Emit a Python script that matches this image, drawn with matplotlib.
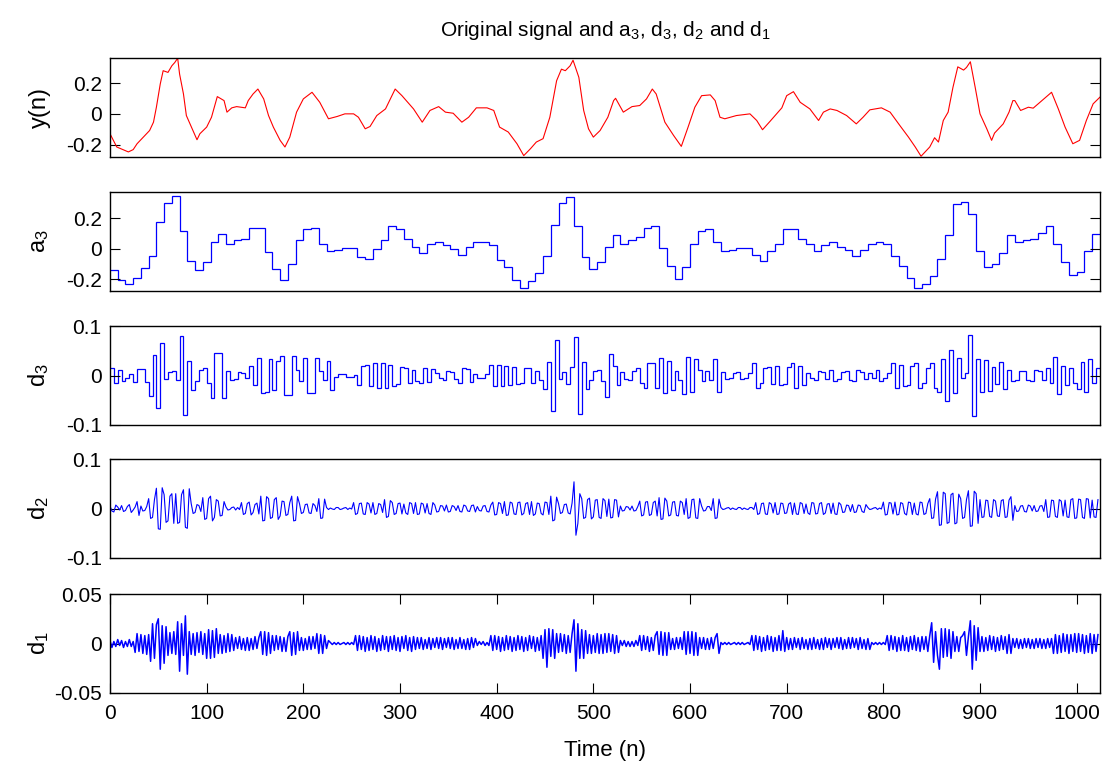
import numpy as np
import matplotlib
matplotlib.use('Agg')
import matplotlib.pyplot as plt

plt.rcParams['font.family'] = ['Liberation Sans', 'DejaVu Sans']
plt.rcParams['mathtext.fontset'] = 'custom'
plt.rcParams['mathtext.rm'] = 'Liberation Sans'
plt.rcParams['mathtext.it'] = 'Liberation Sans'

# original signal y(n)
y_n = [0, 7, 19, 24, 28, 33, 41, 45, 48, 52,
       55, 60, 64, 67, 70, 72, 76, 79, 85, 90,
       93, 100, 105, 111, 118, 121, 126, 131, 140, 143,
       148, 153, 159, 164, 169, 176, 181, 186, 193, 200,
       209, 217, 226, 235, 243, 252, 257, 264, 269, 276,
       285, 295, 302, 314, 323, 331, 340, 347, 355, 364,
       371, 379, 390, 397, 403, 412, 421, 428, 435, 441,
       448, 455, 462, 467, 471, 476, 479, 485, 490, 495,
       500, 507, 515, 521, 523, 531, 540, 548, 555, 561,
       565, 574, 583, 591, 598, 605, 612, 621, 626, 631,
       636, 648, 662, 669, 675, 683, 695, 700, 707, 714,
       724, 733, 738, 745, 752, 762, 772, 779, 786, 798,
       807, 817, 826, 833, 839, 848, 853, 857, 862, 867,
       872, 877, 883, 886, 890, 895, 900, 907, 912, 915,
       924, 930, 934, 936, 942, 950, 955, 964, 974, 981,
       988, 996, 1003, 1010, 1017, 1024]
y_val = [-0.129, -0.215, -0.247, -0.232, -0.194, -0.161, -0.108, -0.054, 0.043, 0.194,
         0.280, 0.269, 0.312, 0.333, 0.361, 0.258, 0.129, -0.011, -0.097, -0.168,
         -0.129, -0.086, -0.022, 0.112, 0.086, 0.011, 0.039, 0.047, 0.039, 0.086,
         0.129, 0.161, 0.097, -0.011, -0.086, -0.172, -0.215, -0.151, 0.011, 0.097,
         0.140, 0.075, -0.032, -0.017, 0.0, 0.0, -0.022, -0.097, -0.082, -0.011,
         0.032, 0.161, 0.118, 0.032, -0.054, 0.022, 0.047, 0.011, 0.004, -0.054,
         -0.022, 0.039, 0.039, 0.022, -0.086, -0.118, -0.194, -0.271, -0.226, -0.183,
         -0.161, -0.022, 0.215, 0.290, 0.280, 0.312, 0.348, 0.237, 0.022, -0.097,
         -0.151, -0.108, -0.022, 0.086, 0.101, 0.011, 0.047, 0.054, 0.097, 0.161,
         0.129, -0.054, -0.140, -0.211, -0.086, 0.043, 0.118, 0.123, 0.086, -0.022,
         -0.032, -0.011, 0.0, -0.043, -0.103, -0.047, 0.039, 0.118, 0.144, 0.075,
         0.032, -0.043, 0.011, 0.032, 0.022, -0.011, -0.065, -0.022, 0.026, 0.039,
         0.011, -0.075, -0.151, -0.215, -0.275, -0.215, -0.155, -0.183, -0.043, 0.011,
         0.172, 0.305, 0.284, 0.301, 0.338, 0.172, 0.0, -0.097, -0.172, -0.125,
         -0.065, 0.011, 0.086, 0.086, 0.022, 0.043, 0.037, 0.086, 0.140, 0.032,
         -0.086, -0.194, -0.172, -0.043, 0.065, 0.108]

# approximation a3, one level per 8 samples
a3 = [-0.143, -0.203, -0.235, -0.193, -0.128, -0.049, 0.175, 0.300, 0.342, 0.118,
      -0.081, -0.143, -0.090, 0.043, 0.096, 0.032, 0.054, 0.064, 0.135, 0.135,
      -0.021, -0.133, -0.205, -0.100, 0.054, 0.128, 0.135, 0.032, -0.017, -0.009,
      0.002, 0.002, -0.058, -0.071, -0.006, 0.054, 0.146, 0.128, 0.064, 0.011,
      -0.032, 0.032, 0.043, 0.021, -0.006, -0.043, 0.011, 0.043, 0.043, 0.021,
      -0.073, -0.120, -0.205, -0.257, -0.214, -0.163, -0.049, 0.154, 0.300, 0.338,
      0.146, -0.058, -0.133, -0.090, 0.011, 0.086, 0.032, 0.054, 0.075, 0.135,
      0.146, 0.004, -0.111, -0.197, -0.120, 0.032, 0.113, 0.126, 0.043, -0.019,
      -0.009, 0.002, 0.002, -0.041, -0.081, -0.019, 0.032, 0.126, 0.126, 0.064,
      0.032, -0.019, 0.021, 0.043, 0.011, -0.009, -0.051, -0.009, 0.032, 0.043,
      0.032, -0.049, -0.111, -0.193, -0.257, -0.235, -0.182, -0.071, 0.086, 0.289,
      0.304, 0.225, -0.019, -0.120, -0.103, -0.030, 0.086, 0.043, 0.054, 0.064,
      0.105, 0.146, 0.032, -0.090, -0.171, -0.154, -0.019, 0.094]

# detail d3, one level per 4 samples (x 1e-3)
d3_m = [15, -15, 12, -12, -4, 4, -14, 14, 14, -14, -42, 42, -65, 65, -8, 8, 10, -10, 80, -80,
        30, -30, -12, 12, 15, -15, -45, 45, 45, -45, 10, -10, -8, 8, 6, -6, 20, -20, 35, -35,
        -33, 33, -30, 30, 40, -40, -40, 40, 12, -12, 35, -35, -35, 35, 10, -10, 30, -30, -3, 3,
        3, -3, -2, 2, -20, 20, 22, -22, 25, -25, 25, -25, 22, -22, -18, 18, 15, -15, 12, -12,
        -16, 16, -14, 14, 5, -5, -10, 10, 8, -8, -16, 16, 14, -14, 4, -4, -4, 4, 22, -22,
        22, -22, 20, -20, 18, -18, -15, 15, 15, -15, 10, -10, -28, 28, -72, 72, -8, 8, -18, 18,
        78, -78, 28, -28, -10, 10, 12, -12, -43, 43, 20, -20, 8, -8, -10, 10, 15, -15, -25, 25,
        25, -25, 35, -35, 30, -30, 10, -10, -38, 38, -33, 33, 12, -12, 10, -10, 33, -33, 8, -8,
        -6, 6, 8, -8, -5, 5, 25, -25, -15, 15, 18, -18, 20, -20, -18, 18, 25, -25, 20, -20,
        6, -6, -10, 10, 8, -8, 12, -12, -8, 8, 10, -10, -12, 12, 8, -8, 5, -5, 12, -12,
        -5, 5, 25, -25, 22, -22, -20, 20, 25, -25, -15, 15, 26, -26, -34, 34, -52, 52, -35, 35,
        -5, 5, 82, -82, 34, -34, 32, -32, 18, -18, 28, -28, 12, -12, -10, 10, 10, -10, -12, 12,
        10, -10, 15, -15, 37, -37, 20, -20, 15, -15, -28, 28, -33, 33, -15, 15]

# detail d2, every 2nd sample (x 1e-3)
d2_m = [5, -5, -7, 7, 3, -3, 6, -6, -4, 4, 8, -8, -3, 3, 14, -14, 5, -5, -4, 4,
        20, -20, -18, 18, 41, -41, -42, 42, 28, -28, -25, 25, 30, -30, 30, -30, -28, 28, 38, -38,
        -40, 40, 10, -10, -8, 8, 6, -6, 22, -22, -20, 20, 25, -25, -18, 18, 15, -15, -14, 14,
        3, -3, -2, 2, 3, -3, 2, -2, 12, -12, -10, 10, 13, -13, -8, 8, 11, -11, 25, -25,
        -24, 24, 20, -20, -18, 18, 22, -22, -15, 15, 14, -14, -12, 12, 25, -25, -24, 24, 10, -10,
        -8, 8, 9, -9, -10, 10, 6, -6, 20, -20, -19, 19, 2, -2, 1, -1, -2, 2, 2, -2,
        -1, 1, 2, -2, 1, -1, 12, -12, -10, 10, 11, -11, -12, 12, 9, -9, 12, -12, -10, 10,
        8, -8, 18, -18, -16, 16, 12, -12, -10, 10, 11, -11, 9, -9, -12, 12, 10, -10, 12, -12,
        -11, 11, 9, -9, 10, -10, -12, 12, 7, -7, -6, 6, 5, -5, 7, -7, -6, 6, 4, -4,
        6, -6, -7, 7, 5, -5, -6, 6, 7, -7, 4, -4, -5, 5, 6, -6, -7, 7, 13, -13,
        -12, 12, 10, -10, 14, -14, -13, 13, 11, -11, -12, 12, 13, -13, -10, 10, 12, -12, 14, -14,
        -11, 11, 10, -10, -13, 13, 12, -12, 25, -25, -23, 23, 10, -10, -8, 8, 9, -9, -11, 11,
        54, -54, -30, 30, 20, -20, -18, 18, 21, -21, -17, 17, 18, -18, -20, 20, 16, -16, 19, -19,
        -18, 18, 17, -17, 5, -5, -4, 4, 3, -3, 5, -5, -4, 4, 15, -15, -13, 13, 14, -14,
        -12, 12, 15, -15, 22, -22, -21, 21, 15, -15, -13, 13, 14, -14, -15, 15, 12, -12, 20, -20,
        -18, 18, 19, -19, -20, 20, 5, -5, -4, 4, 4, -4, 20, -20, -19, 19, 2, -2, -1, 1,
        2, -2, 1, -1, -2, 2, 2, -2, 1, -1, -2, 2, 2, -2, 12, -12, -10, 10, 11, -11,
        -12, 12, 9, -9, 12, -12, -11, 11, 10, -10, -9, 9, 12, -12, 11, -11, -12, 12, 10, -10,
        9, -9, -12, 12, 11, -11, -10, 10, 12, -12, -9, 9, 10, -10, 11, -11, -12, 12, 8, -8,
        -7, 7, 6, -6, 8, -8, -7, 7, 6, -6, -8, 8, 2, -2, -1, 1, 2, -2, 1, -1,
        13, -13, -12, 12, 11, -11, 13, -13, -12, 12, 10, -10, -13, 13, 12, -12, 11, -11, -13, 13,
        12, -12, -10, 10, 20, -20, -19, 19, 34, -34, -33, 33, 30, -30, -28, 28, 31, -31, -29, 29,
        20, -20, -18, 18, 36, -36, -35, 35, 30, -30, 18, -18, -17, 17, 16, -16, -18, 18, 15, -15,
        -16, 16, 18, -18, -17, 17, 24, -24, 6, -6, -5, 5, 6, -6, -7, 7, 5, -5, 6, -6,
        -5, 5, 6, -6, 18, -18, -17, 17, 16, -16, -18, 18, 15, -15, 17, -17, -18, 18, 20, -20,
        -19, 19, 18, -18, -20, 20, 19, -19, 17, -17, -18, 18]

# detail d1, every 2nd sample (x 1e-3)
d1_m = [3, -4, 2, -3, 4, -2, 3, -4, 2, -3, 4, -3, 2, -9, 10, -8,
        9, -10, 8, -11, 9, -18, 20, -15, 19, 25, -26, 18, -20, 17, -12, 11,
        -10, 12, -11, 22, -28, 20, -12, 28, -31, 12, -11, 10, -12, 11, -9, 12,
        -11, 10, -15, 14, -15, 13, -14, 15, -10, 9, -10, 8, -9, 10, -8, 9,
        -7, 6, -5, 7, -6, 5, -7, 6, -7, 5, -6, 7, -5, 6, 12, -11,
        12, -12, 11, -10, 8, -7, 8, -6, 7, -8, 6, -8, 7, 12, -12, 11,
        -11, 12, -7, 6, -7, 5, -6, 7, -6, 7, -5, 10, -10, 9, -10, 8,
        -5, 3, 1, -1, 1, -1, 1, -1, 0, 1, -1, 1, -1, 1, -1, 8,
        -7, 8, -6, 7, -8, 6, -7, 8, -6, 7, -8, 5, -7, 8, -6, 7,
        -8, 7, -6, 8, -7, 6, -8, 7, -5, 8, -7, 6, -8, 7, -6, 6,
        -5, 6, -6, 4, -5, 6, -6, 5, -4, 6, -5, 6, -6, 5, -4, 6,
        -5, 6, -6, 4, -5, 6, -5, 4, -6, 5, -6, 6, -4, 5, -2, 2,
        -1, 2, -2, 1, -2, 8, -7, 8, -6, 7, -8, 6, -7, 8, -6, 7,
        -8, 6, -7, 8, -6, 7, -8, 6, -7, 8, -5, 7, -8, 6, -7, 8,
        -15, 14, -24, 15, -13, 14, -15, 10, -9, 10, -8, 9, -10, 8, -9, 10,
        24, -28, 20, -15, 14, -15, 13, -10, 9, -10, 8, -9, 10, -10, 9, -10,
        10, -9, 10, -8, 9, -10, 8, -9, 3, -2, 3, -3, 2, -3, 2, -3,
        3, -2, 8, -7, 8, -6, 7, -8, 6, -7, 8, 12, -11, 12, -12, 11,
        -12, 11, -6, 5, -6, 6, -5, 6, -6, 12, -11, 12, -10, 12, -12, 11,
        -12, 6, -5, 6, -6, 5, -6, 6, -5, 6, 10, -10, 1, -1, 1, -1,
        1, -1, 0, 1, -1, 1, -1, 1, -1, 0, 1, -1, 8, -7, 8, -6,
        7, -8, 6, -7, 8, -6, 7, -8, 6, -7, 8, -7, 13, -8, 6, -6,
        5, -6, 6, -4, 5, -6, 6, -5, 4, -6, 5, -6, 6, -5, 4, -6,
        5, -6, 6, -4, 5, -6, 5, -4, 6, -5, 6, -6, 4, -5, 6, -5,
        6, -4, 5, -6, 6, -5, 4, -6, 5, -6, 1, -1, 1, -1, 1, -1,
        1, -1, 8, -7, 8, -6, 7, -8, 6, -7, 8, -7, 6, -8, 7, -6,
        8, -7, 6, -8, 7, -6, 7, -8, 8, 21, -19, 12, -12, -26, 15, -14,
        15, -13, 14, -15, 12, -8, 7, -8, 6, 8, 12, -12, 7, 23, -26, 18,
        -17, 16, -8, 7, -8, 6, -7, 8, -6, 7, -8, 6, -7, 8, -6, 7,
        -10, 9, -10, 5, -4, 5, -5, 4, -5, 5, -4, 5, -5, 4, -5, 5,
        -4, 5, -5, 4, -5, 5, -4, 5, -10, 9, -10, 8, -9, 10, -8, 9,
        -10, 9, -8, 10, -9, 10, -8, 9, -10, 8, -9, 10, -10, 9, -8, 9]

N = 1024
red = '#ff0000'
blue = '#0000ff'

fig = plt.figure(figsize=(11.11, 7.67), dpi=100)
left, width, height = 0.099, 0.891, 0.129
bottoms = [0.7953, 0.6206, 0.4459, 0.2725, 0.0965]
axes = [fig.add_axes([left, b, width, height]) for b in bottoms]
ax1, ax2, ax3, ax4, ax5 = axes

ax1.plot(y_n, y_val, color=red, lw=0.8)
ax1.set_ylim(-0.28, 0.362)
ax1.set_yticks([-0.2, 0, 0.2])
ax1.set_yticklabels(['-0.2', '0', '0.2'])
ax1.set_ylabel('y(n)')

ax2.stairs(a3, np.arange(len(a3) + 1) * 8, baseline=None, color=blue, lw=0.9)
ax2.set_ylim(-0.278, 0.37)
ax2.set_yticks([-0.2, 0, 0.2])
ax2.set_yticklabels(['-0.2', '0', '0.2'])
ax2.set_ylabel('a$_3$')

d3 = np.array(d3_m) * 1e-3
ax3.stairs(d3, np.arange(len(d3) + 1) * 4, baseline=None, color=blue, lw=0.9)
ax3.set_ylim(-0.1, 0.1)
ax3.set_yticks([-0.1, 0, 0.1])
ax3.set_yticklabels(['-0.1', '0', '0.1'])
ax3.set_ylabel('d$_3$')

d2 = np.array(d2_m) * 1e-3
ax4.plot(np.arange(len(d2)) * 2, d2, color=blue, lw=0.8)
ax4.set_ylim(-0.1, 0.1)
ax4.set_yticks([-0.1, 0, 0.1])
ax4.set_yticklabels(['-0.1', '0', '0.1'])
ax4.set_ylabel('d$_2$')

d1 = np.array(d1_m) * 1e-3
ax5.plot(np.arange(len(d1)) * 2, d1, color=blue, lw=1.1)
ax5.set_ylim(-0.05, 0.05)
ax5.set_yticks([-0.05, 0, 0.05])
ax5.set_yticklabels(['-0.05', '0', '0.05'])
ax5.set_ylabel('d$_1$')
ax5.set_xticks(np.arange(0, 1001, 100))
ax5.set_xlabel('Time (n)', fontsize=16, labelpad=12)

for ax in axes:
    ax.set_xlim(0, N)
    ax.tick_params(direction='in', length=7, width=0.8, right=True, labelsize=15, pad=6)
    ax.yaxis.label.set_size(17)
    ax.yaxis.set_label_coords(-0.06, 0.5)
    for s in ax.spines.values():
        s.set_linewidth(1.0)
for ax in axes[:4]:
    ax.set_xticks([])
ax5.tick_params(axis='x', top=True, pad=8)

fig.text(0.545, 0.96, 'Original signal and a$_3$, d$_3$, d$_2$ and d$_1$',
         ha='center', va='center', fontsize=15)

fig.savefig('out.png', dpi=100, facecolor='white')
